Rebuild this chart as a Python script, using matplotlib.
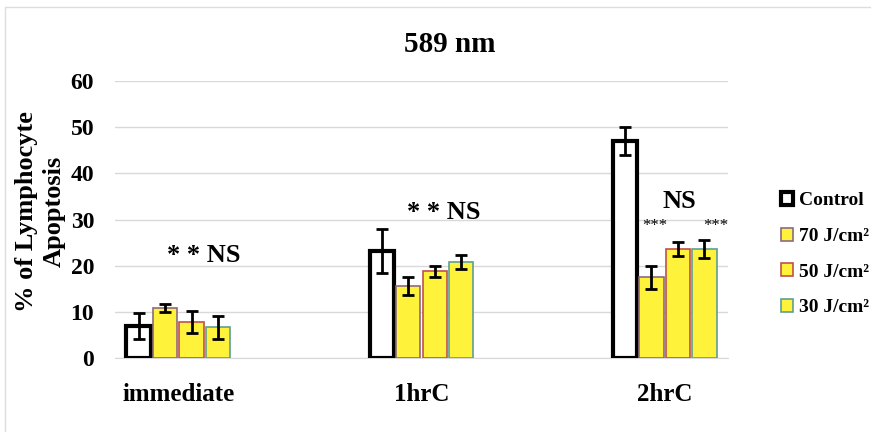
import matplotlib
matplotlib.use("Agg")
import matplotlib.pyplot as plt
import numpy as np

categories = ["immediate", "1hrC", "2hrC"]
series_names = ["Control", "70 J/cm²", "50 J/cm²", "30 J/cm²"]
values = {
    "Control": [6.9, 23.2, 47.0],
    "70 J/cm²": [10.8, 15.6, 17.5],
    "50 J/cm²": [7.8, 18.8, 23.6],
    "30 J/cm²": [6.7, 20.8, 23.6],
}
errors = {
    "Control": [2.8, 4.7, 3.0],
    "70 J/cm²": [0.8, 2.0, 2.5],
    "50 J/cm²": [2.3, 1.2, 1.5],
    "30 J/cm²": [2.5, 1.5, 2.0],
}
yticks = [0, 10, 20, 30, 40, 50, 60]

faces = ["white", "#FFF23A", "#FFF23A", "#FFF23A"]
edges = ["black", "#8E6A7E", "#C0504D", "#5E9E94"]
lws = [3, 1.2, 1.2, 1.2]

plt.rcParams['font.family'] = ['Liberation Serif', 'DejaVu Serif']
plt.rcParams['font.weight'] = 'bold'

fig = plt.figure(figsize=(8.71, 4.32), dpi=100)
fig.patch.set_facecolor("white")
# light frame
frame = plt.Rectangle((5/871, -0.1), 1.2, 1 - 7/432 + 0.1, transform=fig.transFigure,
                      fill=False, edgecolor="#DDDDDD", linewidth=1)
fig.add_artist(frame)

ax = fig.add_axes([115/871, 1 - 358/432, (728 - 115)/871, (358 - 81)/432])
x = np.arange(len(categories))
width = 0.1
offsets = [-0.163, -0.055, 0.055, 0.163]
for i, name in enumerate(series_names):
    ax.bar(x + offsets[i], values[name], width, color=faces[i], edgecolor=edges[i],
           linewidth=lws[i], label=name, zorder=3)
    ax.errorbar(x + offsets[i], values[name], yerr=errors[name], fmt="none",
                ecolor="black", elinewidth=2, capsize=4, capthick=2, zorder=4)

ax.set_xlim(-0.26, 2.26)
ax.set_ylim(0, 60)
ax.set_yticks(yticks)
ax.set_yticklabels([str(t) for t in yticks], fontsize=17, fontweight="bold")
ax.set_xticks(x)
ax.set_xticklabels(categories, fontsize=18, fontweight="bold")
ax.tick_params(axis="both", length=0)
ax.tick_params(axis="x", pad=18)
ax.tick_params(axis="y", pad=15)
ax.grid(axis="y", color="#D9D9D9", linewidth=1, zorder=0)
for s in ax.spines.values():
    s.set_visible(False)
ax.spines["bottom"].set_visible(True)
ax.spines["bottom"].set_color("#D9D9D9")

fig.text(450/871, 1 - 45/432, "589 nm", ha="center", va="center",
         fontsize=21, fontweight="bold")
ax.set_ylabel("% of Lymphocyte\nApoptosis", fontsize=19, fontweight="bold",
              linespacing=1.25)
ax.yaxis.set_label_coords(-0.080, 0.53)

ax.text(0.103, 22.3, "* * NS", ha="center", va="center", fontsize=19, fontweight="bold")
ax.text(1.09, 31.6, "* * NS", ha="center", va="center", fontsize=19, fontweight="bold")
ax.text(2.06, 33.8, "NS", ha="center", va="center", fontsize=19, fontweight="bold")
ax.text(1.96, 28.6, "***", ha="center", va="center", fontsize=12, fontweight="normal")
ax.text(2.21, 28.6, "***", ha="center", va="center", fontsize=12, fontweight="normal")

leg = ax.legend(loc="upper left", bbox_to_anchor=(773/871, 1 - 184/432),
                bbox_transform=fig.transFigure, frameon=False,
                prop={"size": 14, "weight": "bold"}, handlelength=0.65, handleheight=0.65,
                handletextpad=0.3, labelspacing=0.95, borderaxespad=0)

fig.savefig("out.png", dpi=100)
